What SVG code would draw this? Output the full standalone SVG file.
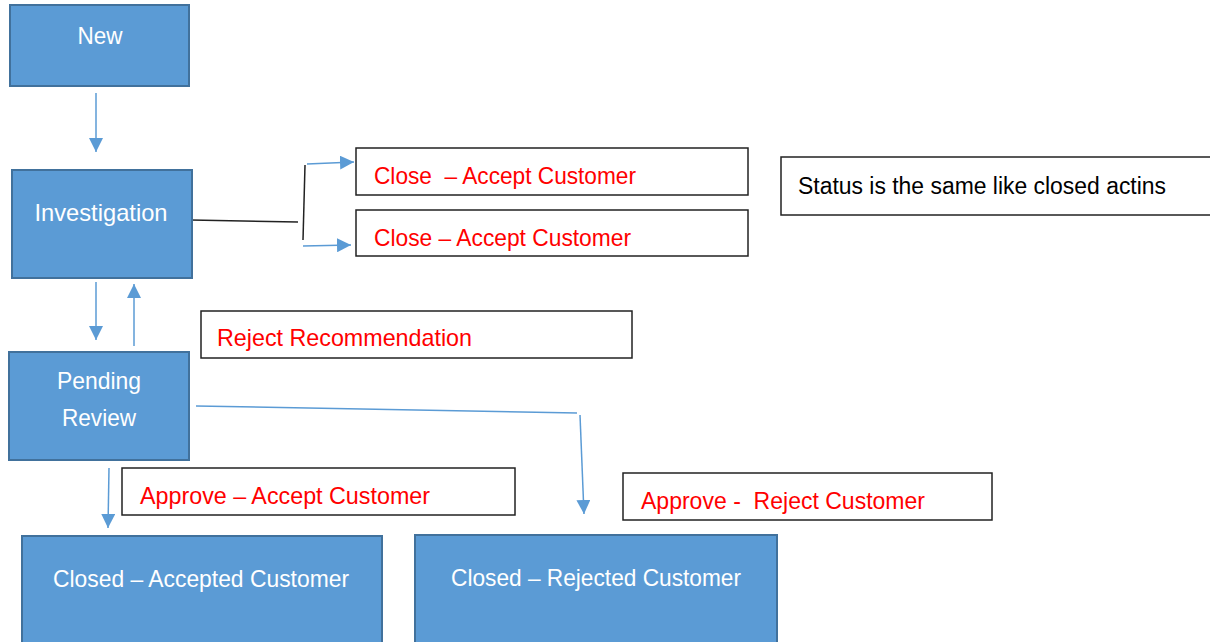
<svg xmlns="http://www.w3.org/2000/svg" width="1210" height="642" viewBox="0 0 1210 642">
<style>
text{white-space:pre}
.state{fill:#5b9bd5;stroke:#41719c;stroke-width:2}
.st{fill:#fff;font-family:"Liberation Sans",Arial,sans-serif;font-size:24px}
.lbl{fill:#fff;stroke:#222;stroke-width:1.5}
.lt{fill:#ff0000;font-family:"Liberation Sans",Arial,sans-serif;font-size:24px}
.note{fill:#000;font-family:"Liberation Sans",Arial,sans-serif;font-size:23px}
.c{fill:none;stroke:#5b9bd5;stroke-width:1.5}
.k{fill:none;stroke:#222;stroke-width:1.5}
</style>
<defs>
<marker id="ahb" viewBox="0 0 12 12" refX="12" refY="6" markerWidth="14" markerHeight="14" markerUnits="userSpaceOnUse" orient="auto">
<path d="M0,0 L12,6 L0,12 z" fill="#5b9bd5"/>
</marker>
</defs>
<rect width="1210" height="642" fill="#fff"/>
<g id="connectors">
<line class="c" x1="96" y1="93" x2="96" y2="152" marker-end="url(#ahb)"/>
<line class="k" x1="191" y1="220" x2="298" y2="222"/>
<line class="k" x1="305" y1="165" x2="303" y2="240"/>
<line class="c" x1="307" y1="164" x2="354" y2="162" marker-end="url(#ahb)"/>
<line class="c" x1="303" y1="246" x2="351" y2="245" marker-end="url(#ahb)"/>
<line class="c" x1="96" y1="282" x2="96" y2="340" marker-end="url(#ahb)"/>
<line class="c" x1="134" y1="346" x2="134" y2="284" marker-end="url(#ahb)"/>
<polyline class="c" points="196,406 577,413"/>
<line class="c" x1="580" y1="415" x2="584" y2="514" marker-end="url(#ahb)"/>
<line class="c" x1="109" y1="468" x2="108" y2="528" marker-end="url(#ahb)"/>
</g>
<g id="new"><rect class="state" x="10" y="5" width="179" height="81"/><text class="st" x="100" y="44" text-anchor="middle" textLength="45" lengthAdjust="spacingAndGlyphs">New</text></g>
<g id="investigation"><rect class="state" x="12" y="170" width="180" height="108"/><text class="st" x="101" y="221" text-anchor="middle" textLength="133" lengthAdjust="spacingAndGlyphs">Investigation</text></g>
<g id="pending"><rect class="state" x="9" y="352" width="180" height="108"/><text class="st" x="99" y="389" text-anchor="middle" textLength="84" lengthAdjust="spacingAndGlyphs">Pending</text><text class="st" x="99" y="426" text-anchor="middle" textLength="74" lengthAdjust="spacingAndGlyphs">Review</text></g>
<g id="closed-accepted"><rect class="state" x="22" y="536" width="360" height="110"/><text class="st" x="201" y="587" text-anchor="middle" textLength="296" lengthAdjust="spacingAndGlyphs">Closed – Accepted Customer</text></g>
<g id="closed-rejected"><rect class="state" x="415" y="535" width="362" height="111"/><text class="st" x="596" y="586" text-anchor="middle" textLength="290" lengthAdjust="spacingAndGlyphs">Closed – Rejected Customer</text></g>
<g id="close1"><rect class="lbl" x="356" y="148" width="392" height="47"/><text class="lt" x="374" y="184" textLength="262" lengthAdjust="spacingAndGlyphs">Close  – Accept Customer</text></g>
<g id="close2"><rect class="lbl" x="356" y="210" width="392" height="46"/><text class="lt" x="374" y="246" textLength="257" lengthAdjust="spacingAndGlyphs">Close – Accept Customer</text></g>
<g id="status-note"><rect class="lbl" x="781" y="157" width="440" height="58" stroke-width="2"/><text class="note" x="798" y="194" textLength="368" lengthAdjust="spacingAndGlyphs">Status is the same like closed actins</text></g>
<g id="reject-rec"><rect class="lbl" x="201" y="311" width="431" height="47"/><text class="lt" x="217" y="346" textLength="255" lengthAdjust="spacingAndGlyphs">Reject Recommendation</text></g>
<g id="approve-accept"><rect class="lbl" x="122" y="468" width="393" height="47"/><text class="lt" x="140" y="504" textLength="290" lengthAdjust="spacingAndGlyphs">Approve – Accept Customer</text></g>
<g id="approve-reject"><rect class="lbl" x="623" y="473" width="369" height="47"/><text class="lt" x="641" y="509" textLength="284" lengthAdjust="spacingAndGlyphs">Approve -  Reject Customer</text></g>
</svg>
